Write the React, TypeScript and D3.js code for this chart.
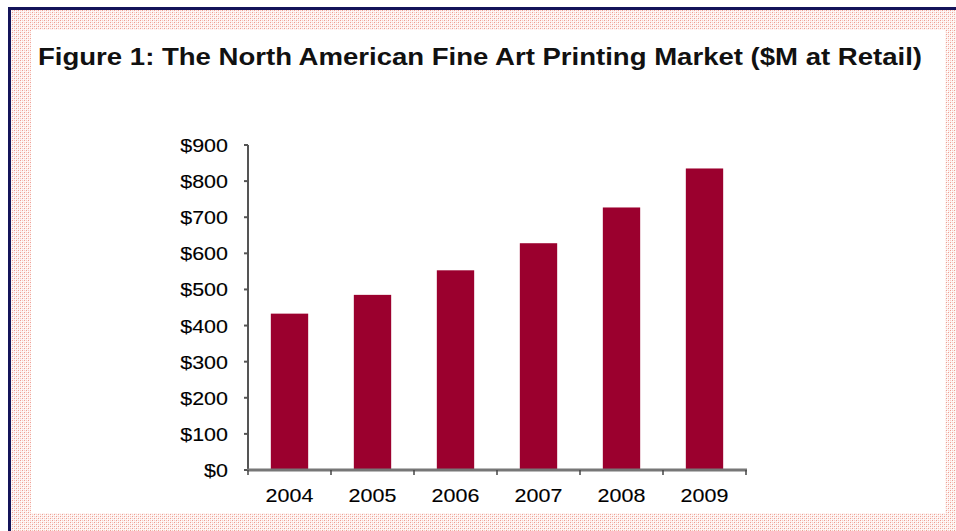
import React from "react";
import * as d3 from "d3";

const years = ["2004", "2005", "2006", "2007", "2008", "2009"];
const values = [433, 485, 553, 628, 727, 835];
const yTicks = [0, 100, 200, 300, 400, 500, 600, 700, 800, 900];
const title = "Figure 1: The North American Fine Art Printing Market ($M at Retail)";

const W = 956;
const H = 531;

export default function App() {
  const x = d3.scaleBand<string>().domain(years).range([248, 746]).paddingInner(0.55).paddingOuter(0.275);
  const xb = d3.scaleBand<string>().domain(years).range([248, 746]);
  const y = d3.scaleLinear().domain([0, 900]).range([470, 145]);
  const font = "Liberation Sans, Arial, sans-serif";
  const sx = 1.13;
  return (
    <div style={{ position: "absolute", left: 0, top: 0 }}>
      <svg width={W} height={H} style={{ display: "block" }}>
        <defs>
          <pattern id="dots" width="4" height="4" patternUnits="userSpaceOnUse">
            <rect width="4" height="4" fill="#fdf3f1" />
            <rect x="0" y="0" width="1" height="1" fill="#ef9e92" />
            <rect x="2" y="2" width="1" height="1" fill="#ef9e92" />
            <rect x="2" y="0" width="1" height="1" fill="#f7cdc6" />
            <rect x="0" y="2" width="1" height="1" fill="#f7cdc6" />
            <rect x="1" y="1" width="1" height="1" fill="#ffffff" />
            <rect x="3" y="3" width="1" height="1" fill="#ffffff" />
          </pattern>
        </defs>
        <rect x={0} y={0} width={W} height={H} fill="#ffffff" />
        <rect x={8} y={7} width={W} height={H} fill="#14145a" />
        <rect x={11} y={10} width={W} height={H} fill="url(#dots)" />
        <rect x={31} y={30} width={945 - 31} height={513 - 30} fill="#ffffff" />
        <text
          x={38}
          y={65}
          fontFamily={font}
          fontWeight="bold"
          fontSize={24}
          fill="#111"
          textLength={884}
          lengthAdjust="spacingAndGlyphs"
        >
          {title}
        </text>
        {values.map((v, i) => (
          <rect
            key={years[i]}
            x={x(years[i])}
            y={y(v)}
            width={x.bandwidth()}
            height={y(0) - y(v)}
            fill="#9b002e"
          />
        ))}
        <line x1={248} x2={248} y1={y(900)} y2={y(0)} stroke="#555" strokeWidth={2} />
        {yTicks.map((t) => (
          <g key={t}>
            <line x1={244} x2={248} y1={y(t)} y2={y(t)} stroke="#555" strokeWidth={2} />
            <text
              x={0}
              y={0}
              transform={`translate(228,${y(t) + 7}) scale(${sx},1)`}
              textAnchor="end"
              fontFamily={font}
              fontSize={19}
              fill="#000"
              stroke="#000"
              strokeWidth={0.12}
            >
              {"$" + t}
            </text>
          </g>
        ))}
        <line x1={247} x2={747} y1={y(0)} y2={y(0)} stroke="#777" strokeWidth={3} />
        {[...years.map((yr) => xb(yr) as number), 746].map((px, i) => (
          <line key={i} x1={px} x2={px} y1={y(0)} y2={y(0) + 5} stroke="#444" strokeWidth={1.5} />
        ))}
        {years.map((yr) => (
          <text
            key={yr}
            x={0}
            y={0}
            transform={`translate(${(xb(yr) as number) + xb.bandwidth() / 2},${y(0) + 32}) scale(${sx},1)`}
            textAnchor="middle"
            fontFamily={font}
            fontSize={19}
            fill="#000"
            stroke="#000"
            strokeWidth={0.12}
          >
            {yr}
          </text>
        ))}
      </svg>
    </div>
  );
}
